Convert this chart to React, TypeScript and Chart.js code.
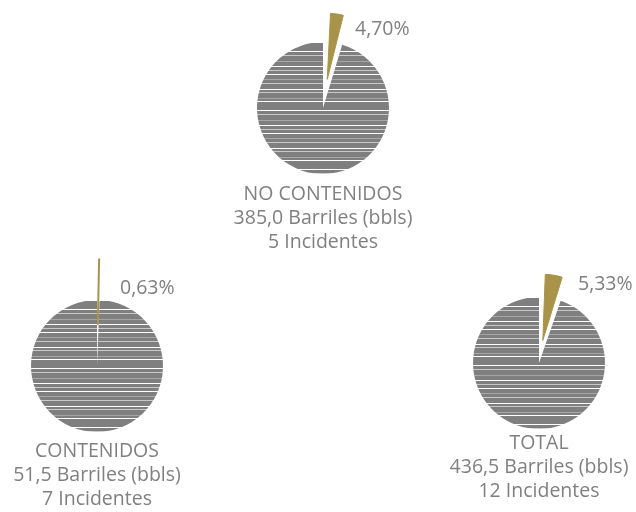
import React, { useEffect, useRef } from "react";
import { Chart, registerables } from "chart.js";

Chart.register(...registerables);

// ---- data ----
const pieNames = ["NO CONTENIDOS", "CONTENIDOS", "TOTAL"];
const barrels = ["385,0 Barriles (bbls)", "51,5 Barriles (bbls)", "436,5 Barriles (bbls)"];
const incidents = ["5 Incidentes", "7 Incidentes", "12 Incidentes"];
const highlightShare = [4.7, 0.63, 5.33];
const restShare = [95.3, 99.37, 94.67];
const pctLabels = ["4,70%", "0,63%", "5,33%"];

// ---- layout (positions/styles) ----
// explode = distance (px) the highlighted slice is pulled out from the centre
const centers = [
  { cx: 323, cy: 107.5, explode: 29, border: 1, pctX: 355, pctY: 16, labelTop: 181 },
  { cx: 97, cy: 366, explode: 41, border: 2, pctX: 120, pctY: 275, labelTop: 438 },
  { cx: 539, cy: 363, explode: 23, border: 1, pctX: 578, pctY: 271, labelTop: 430 },
];
const CANVAS = 240;
const RADIUS = 66;
const GOLD = "#a89348";
const TEXT = "#808080";
const FONT = "'Open Sans', 'Noto Sans', sans-serif";
const FS = 19.5;

function makeStripePattern(): CanvasPattern | string {
  const rows = "ddddwdddldddddmddddwdddldddwddddmdddldddddwddldddddmddwdddd";
  const colors: Record<string, string> = {
    d: "#7f7f80",
    w: "#ffffff",
    l: "#c9c9c9",
    m: "#a6a6a6",
  };
  const c = document.createElement("canvas");
  c.width = 8;
  c.height = rows.length;
  const ctx = c.getContext("2d");
  if (!ctx) return "#7f7f80";
  for (let i = 0; i < rows.length; i++) {
    ctx.fillStyle = colors[rows[i]];
    ctx.fillRect(0, i, 8, 1);
  }
  const p = ctx.createPattern(c, "repeat");
  return p || "#7f7f80";
}

// Chart.js v4 translates an arc by offset/4 and also grows its radius by
// offset/4 * (1 - sin(circumference)); keep the exploded slice the same radius
// as the rest of the pie.
const keepRadiusPlugin = {
  id: "keepRadius",
  afterDatasetUpdate(chart: any, args: any) {
    const meta = chart.getDatasetMeta(args.index);
    const ds = chart.data.datasets[args.index];
    meta.data.forEach((el: any, i: number) => {
      const off = Array.isArray(ds.offset) ? ds.offset[i] || 0 : ds.offset || 0;
      if (off) {
        const fix = 1 - Math.sin(Math.min(Math.PI, el.circumference || 0));
        el.outerRadius = el.outerRadius - (off / 4) * fix;
      }
    });
  },
};

function Pie({ idx }: { idx: number }) {
  const ref = useRef<HTMLCanvasElement>(null);
  useEffect(() => {
    if (!ref.current) return;
    const pattern = makeStripePattern();
    const chart = new Chart(ref.current, {
      type: "pie",
      data: {
        labels: ["Destacado", "Resto"],
        datasets: [
          {
            data: [highlightShare[idx], restShare[idx]],
            backgroundColor: [GOLD, pattern as any],
            borderColor: [GOLD, "rgba(0,0,0,0)"],
            borderWidth: [centers[idx].border, 0],
            offset: [centers[idx].explode * 4, 0],
          },
        ],
      },
      options: {
        responsive: false,
        animation: false,
        radius: RADIUS,
        layout: { padding: 0 },
        plugins: {
          legend: { display: false },
          tooltip: { enabled: false },
        },
        events: [],
      } as any,
      plugins: [keepRadiusPlugin],
    });
    return () => chart.destroy();
  }, [idx]);
  const c = centers[idx];
  return (
    <>
      <canvas
        ref={ref}
        width={CANVAS}
        height={CANVAS}
        style={{
          position: "absolute",
          left: c.cx - CANVAS / 2,
          top: c.cy - CANVAS / 2,
          width: CANVAS,
          height: CANVAS,
        }}
      />
      <div
        style={{
          position: "absolute",
          left: c.pctX,
          top: c.pctY,
          lineHeight: "24px",
          fontSize: FS,
          color: TEXT,
          fontFamily: FONT,
          whiteSpace: "nowrap",
        }}
      >
        {pctLabels[idx]}
      </div>
      <div
        style={{
          position: "absolute",
          left: c.cx - 120,
          top: c.labelTop,
          width: 240,
          textAlign: "center",
          lineHeight: "24px",
          fontSize: FS,
          color: TEXT,
          fontFamily: FONT,
          whiteSpace: "nowrap",
        }}
      >
        <div>{pieNames[idx]}</div>
        <div>{barrels[idx]}</div>
        <div>{incidents[idx]}</div>
      </div>
    </>
  );
}

export default function App() {
  return (
    <div
      style={{
        position: "fixed",
        left: 0,
        top: 0,
        width: 636,
        height: 512,
        overflow: "hidden",
        background: "#ffffff",
      }}
    >
      <Pie idx={0} />
      <Pie idx={1} />
      <Pie idx={2} />
    </div>
  );
}
